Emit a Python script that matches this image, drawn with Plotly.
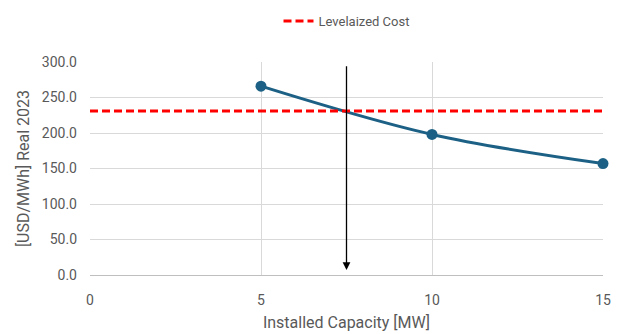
import plotly.graph_objects as go

capacity = [5, 10, 15]
cost = [266, 198, 157]
levelized_x = [0, 15]
levelized_cost = [231, 231]
arrow_x = 7.5
arrow_top = 296
arrow_bottom = 7

FONT = "Roboto, sans-serif"
GRAY = "#595959"

fig = go.Figure()
fig.add_trace(go.Scatter(
    x=capacity, y=cost, mode="lines+markers", line=dict(color="#1c6185", width=3, shape="spline"),
    marker=dict(size=11, color="#1c6185"), showlegend=False, name="LCOE", cliponaxis=False))
fig.add_trace(go.Scatter(
    x=levelized_x, y=levelized_cost, mode="lines", line=dict(color="#ff0000", width=3, dash="8px,4px"),
    name="Levelaized Cost"))

fig.add_annotation(x=arrow_x, y=arrow_bottom, ax=arrow_x, ay=arrow_top, xref="x", yref="y",
                   axref="x", ayref="y", showarrow=True, arrowhead=2, arrowsize=1.2, arrowwidth=1.3,
                   arrowcolor="black", text="")

fig.update_layout(
    width=614, height=326, margin=dict(l=82, r=19, t=54, b=59, autoexpand=False),
    paper_bgcolor="white", plot_bgcolor="white",
    font=dict(family=FONT, color=GRAY, size=14),
    legend=dict(orientation="h", x=0.5, xanchor="center", y=0.96, yanchor="middle",
                yref="container", font=dict(size=13, color=GRAY)),
    xaxis=dict(range=[0, 15], tickvals=[0, 5, 10, 15], showgrid=True, gridcolor="#d9d9d9",
               zeroline=False, showline=True, linecolor="#bfbfbf", mirror=False, automargin=False,
               tickfont=dict(size=14), ticks="", ticklabelstandoff=12,
               title=dict(text="Installed Capacity [MW]", font=dict(size=16), standoff=10)),
    yaxis=dict(range=[0, 300], tickvals=[0, 50, 100, 150, 200, 250, 300], tickformat=".1f",
               showgrid=True, gridcolor="#d9d9d9", zeroline=False, showline=False, automargin=False,
               tickfont=dict(size=14), ticks="", ticklabelstandoff=12,
               title=dict(text="[USD/MWh] Real 2023", font=dict(size=16), standoff=8)),
)
fig.write_html("out.html")
